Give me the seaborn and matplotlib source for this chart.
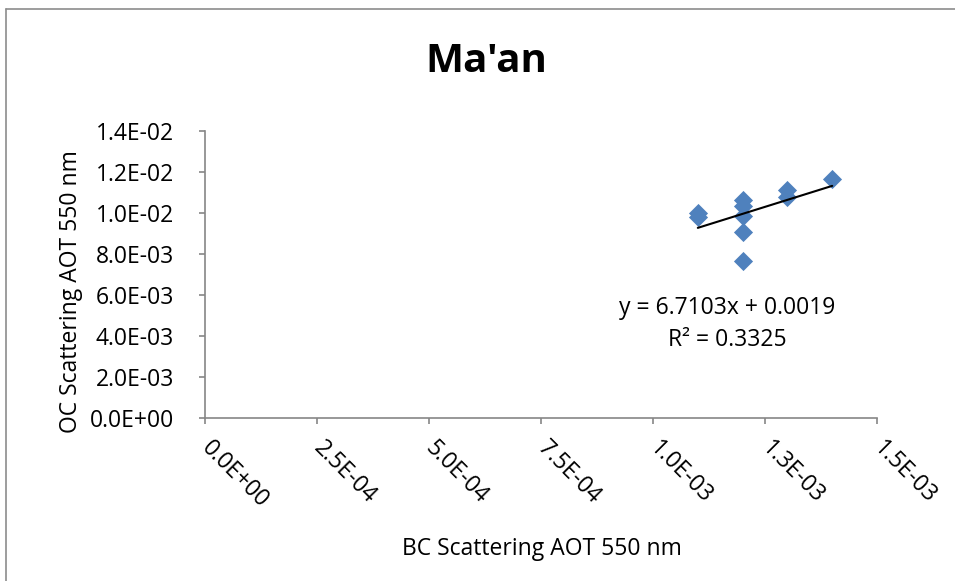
import matplotlib
matplotlib.use("Agg")
import matplotlib.pyplot as plt
from matplotlib.lines import Line2D
import seaborn as sns
import pandas as pd
import numpy as np

# Data
bc_scattering = [1.10e-3, 1.10e-3, 1.20e-3, 1.20e-3, 1.20e-3, 1.20e-3, 1.20e-3, 1.30e-3, 1.30e-3, 1.40e-3]
oc_scattering = [1.00e-2, 9.80e-3, 1.060e-2, 1.035e-2, 9.85e-3, 9.05e-3, 7.65e-3, 1.110e-2, 1.075e-2, 1.165e-2]

x_ticks = [0.0, 2.5e-4, 5.0e-4, 7.5e-4, 1.0e-3, 1.25e-3, 1.5e-3]
x_tick_labels = ["0.0E+00", "2.5E-04", "5.0E-04", "7.5E-04", "1.0E-03", "1.3E-03", "1.5E-03"]
y_ticks = [0.0, 2e-3, 4e-3, 6e-3, 8e-3, 1.0e-2, 1.2e-2, 1.4e-2]
y_tick_labels = ["0.0E+00", "2.0E-03", "4.0E-03", "6.0E-03", "8.0E-03", "1.0E-02", "1.2E-02", "1.4E-02"]

title = "Ma'an"
x_label = "BC Scattering AOT 550 nm"
y_label = "OC Scattering AOT 550 nm"
equation = "y = 6.7103x + 0.0019"
r_squared = "R² = 0.3325"

df = pd.DataFrame({"bc": bc_scattering, "oc": oc_scattering})

sns.set_theme(style="white")
plt.rcParams["font.family"] = ["Open Sans", "DejaVu Sans"]

fig = plt.figure(figsize=(9.55, 5.81), dpi=100)
fig.patch.set_facecolor("white")
ax = fig.add_axes([205 / 955, 1 - 417.7 / 581, 672 / 955, 287 / 581])

sns.regplot(data=df, x="bc", y="oc", ax=ax, ci=None, marker="D",
            scatter_kws=dict(s=95, color="#4F81BD", linewidths=0, alpha=1, zorder=3),
            line_kws=dict(color="black", linewidth=1.5, zorder=4))

ax.set_xlim(0, 1.5e-3)
ax.set_ylim(0, 1.4e-2)
ax.set_xticks(x_ticks)
ax.set_xticklabels(x_tick_labels)
ax.set_yticks(y_ticks)
ax.set_yticklabels(y_tick_labels)

for lab in ax.get_xticklabels():
    lab.set_rotation(-45)
    lab.set_ha("left")
    lab.set_va("center")
    lab.set_rotation_mode("anchor")

gray = "#868686"
for s in ["top", "right"]:
    ax.spines[s].set_visible(False)
for s in ["left", "bottom"]:
    ax.spines[s].set_color(gray)
    ax.spines[s].set_linewidth(1.2)

ax.tick_params(axis="both", which="major", direction="out", length=4.5, width=1.2,
               color=gray, labelsize=16.5, labelcolor="black")
ax.tick_params(axis="x", pad=15, bottom=True)
ax.tick_params(axis="y", pad=18, left=True)

ax.set_xlabel(x_label, fontsize=16.5, color="black")
ax.set_ylabel(y_label, fontsize=16.5, color="black")
ax.xaxis.set_label_coords(0.501, -0.457)
ax.xaxis.label.set_va("center")
ax.yaxis.set_label_coords(-0.2, 0.44)
ax.yaxis.label.set_va("center")

fig.text(486 / 955, 1 - 61 / 581, title, fontsize=29, fontweight="bold",
         ha="center", va="center", color="black")

ax.text(727 / 955, 1 - 308 / 581, equation, transform=fig.transFigure,
        fontsize=16.5, ha="center", va="center", color="black")
ax.text(727 / 955, 1 - 340 / 581, r_squared, transform=fig.transFigure,
        fontsize=16.5, ha="center", va="center", color="black")

# Outer chart border (top and left visible)
fig.add_artist(Line2D([6 / 955, 1.0], [1 - 9 / 581, 1 - 9 / 581],
                      transform=fig.transFigure, color="#8C8C8C", linewidth=1.2))
fig.add_artist(Line2D([6 / 955, 6 / 955], [0.0, 1 - 9 / 581],
                      transform=fig.transFigure, color="#8C8C8C", linewidth=1.2))

fig.savefig("out.png", dpi=100, facecolor="white")
